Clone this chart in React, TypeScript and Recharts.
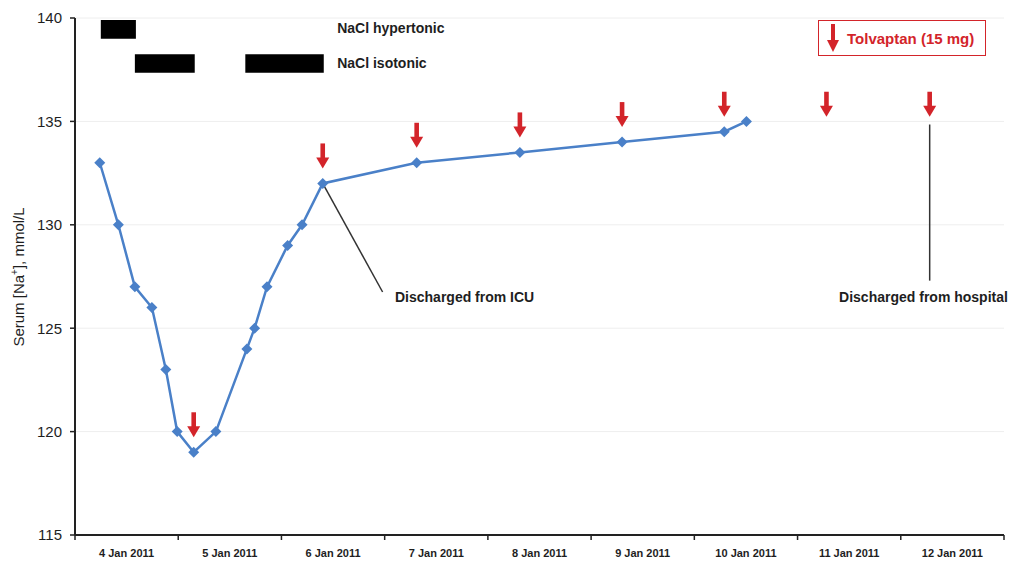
import { ComposedChart, Line, Scatter, XAxis, YAxis, CartesianGrid, ReferenceArea, ReferenceLine } from 'recharts'

// x values are days counted from 4 Jan 2011 00:00
const dayLabels = ['4 Jan 2011', '5 Jan 2011', '6 Jan 2011', '7 Jan 2011', '8 Jan 2011', '9 Jan 2011', '10 Jan 2011', '11 Jan 2011', '12 Jan 2011']
const yTicks = [115, 120, 125, 130, 135, 140]

const sodiumDay = [0.24, 0.42, 0.58, 0.745, 0.88, 0.99, 1.15, 1.365, 1.665, 1.74, 1.86, 2.06, 2.2, 2.4, 3.31, 4.31, 5.3, 6.29, 6.505]
const sodiumValue = [133, 130, 127, 126, 123, 120, 119, 120, 124, 125, 127, 129, 130, 132, 133, 133.5, 134, 134.5, 135]

// tolvaptan doses: arrow points at this value
const doseDay = [1.15, 2.4, 3.31, 4.31, 5.3, 6.29, 7.28, 8.28]
const doseValue = [119, 132, 133, 133.5, 134, 134.5, 134.5, 134.5]

// NaCl infusions
const hyperStart = [0.25]
const hyperEnd = [0.59]
const isoStart = [0.58, 1.65]
const isoEnd = [1.16, 2.41]

const notes = ['NaCl hypertonic', 'NaCl isotonic', 'Discharged from ICU', 'Discharged from hospital']
const noteDay = [2.54, 2.54, 3.1, 8.22]
const noteValue = [139.5, 137.8, 126.5, 126.5]
const noteAnchor = ['start', 'start', 'start', 'middle']

const sodiumData = sodiumDay.map((x, i) => ({ x, y: sodiumValue[i] }))
const doseData = doseDay.map((x, i) => ({ x, y: doseValue[i] }))
const noteData = notes.map((text, i) => ({ x: noteDay[i], y: noteValue[i], text, anchor: noteAnchor[i] }))

const xTicks: number[] = []
for (let i = 0; i <= dayLabels.length * 2; i++) xTicks.push(i / 2)

const RED = '#d3242a'
const BLUE = '#4a80c8'
const FONT = '"Liberation Sans", Arial, sans-serif'

const Diamond = (props: any) => {
  const { cx, cy } = props
  if (cx == null || cy == null) return null
  const r = 5.5
  return <polygon points={`${cx},${cy - r} ${cx + r},${cy} ${cx},${cy + r} ${cx - r},${cy}`} fill={BLUE} />
}

const DoseArrow = (props: any) => {
  const { cx, cy } = props
  const tip = cy - 15
  return (
    <g>
      <rect x={cx - 2.3} y={tip - 25} width={4.6} height={16} fill={RED} />
      <polygon points={`${cx - 6.5},${tip - 11} ${cx + 6.5},${tip - 11} ${cx},${tip}`} fill={RED} />
    </g>
  )
}

const NoteText = (props: any) => {
  const { cx, cy, payload } = props
  return (
    <text x={cx} y={cy} dy={5} textAnchor={payload.anchor} fontFamily={FONT} fontSize={14} fontWeight="bold" fill="#1e1e1e">
      {payload.text}
    </text>
  )
}

const DayTick = (props: any) => {
  const { x, y, payload } = props
  const v = payload.value
  if (Number.isInteger(v)) {
    return <line x1={x} y1={y} x2={x} y2={y + 5} stroke="#222" strokeWidth={1.5} />
  }
  return (
    <text x={x} y={y + 22} textAnchor="middle" fontFamily={FONT} fontSize={11} fontWeight="bold" fill="#1e1e1e">
      {dayLabels[Math.floor(v)]}
    </text>
  )
}

const YLabel = () => (
  <text transform="rotate(-90)" x={-277} y={24} textAnchor="middle" fontFamily={FONT} fontSize={15} fill="#1e1e1e">
    Serum [Na<tspan dy={-6} fontSize={10}>+</tspan><tspan dy={6}>], mmol/L</tspan>
  </text>
)

export default function App() {
  return (
    <div style={{ position: 'absolute', left: 0, top: 0, width: 1022, height: 565, background: '#fff' }}>
      <ComposedChart width={1022} height={565} margin={{ top: 18, right: 18, left: 25, bottom: 0 }}>
        <CartesianGrid vertical={false} stroke="#eeeeee" />
        <XAxis
          type="number"
          dataKey="x"
          domain={[0, 9]}
          ticks={xTicks}
          interval={0}
          tickLine={false}
          tickSize={0}
          tickMargin={0}
          height={30}
          axisLine={{ stroke: '#222', strokeWidth: 2 }}
          tick={<DayTick />}
        />
        <YAxis
          type="number"
          dataKey="y"
          domain={[115, 140]}
          ticks={yTicks}
          width={50}
          tickSize={5}
          tickMargin={8}
          axisLine={{ stroke: '#222', strokeWidth: 2 }}
          tickLine={{ stroke: '#222', strokeWidth: 1.5 }}
          tick={{ fill: '#1e1e1e', fontSize: 15, fontFamily: FONT }}
          label={<YLabel />}
        />
        {hyperStart.map((s, i) => (
          <ReferenceArea key={'h' + i} x1={s} x2={hyperEnd[i]} y1={139.0} y2={139.9} fill="#000" fillOpacity={1} stroke="none" />
        ))}
        {isoStart.map((s, i) => (
          <ReferenceArea key={'i' + i} x1={s} x2={isoEnd[i]} y1={137.35} y2={138.25} fill="#000" fillOpacity={1} stroke="none" />
        ))}
        <ReferenceLine segment={[{ x: 2.4, y: 132 }, { x: 2.98, y: 126.75 }]} stroke="#333" strokeWidth={1.5} />
        <ReferenceLine segment={[{ x: 8.28, y: 134.85 }, { x: 8.28, y: 127.3 }]} stroke="#333" strokeWidth={1.5} />
        <Line
          data={sodiumData}
          dataKey="y"
          type="linear"
          stroke={BLUE}
          strokeWidth={2.5}
          dot={<Diamond />}
          activeDot={false}
          isAnimationActive={false}
        />
        <Scatter data={doseData} dataKey="y" shape={<DoseArrow />} isAnimationActive={false} />
        <Scatter data={noteData} dataKey="y" shape={<NoteText />} isAnimationActive={false} />
      </ComposedChart>
      <div
        style={{
          position: 'absolute',
          left: 818,
          top: 20,
          width: 166,
          height: 34,
          border: `1.5px solid ${RED}`,
          display: 'flex',
          alignItems: 'center',
          fontFamily: FONT,
          fontWeight: 'bold',
          fontSize: 15,
          color: RED,
        }}
      >
        <svg width={28} height={34} style={{ flex: 'none' }}>
          <rect x={12} y={3} width={4} height={17} fill={RED} />
          <polygon points="8,19 20,19 14,31" fill={RED} />
        </svg>
        <span>Tolvaptan (15 mg)</span>
      </div>
    </div>
  )
}
